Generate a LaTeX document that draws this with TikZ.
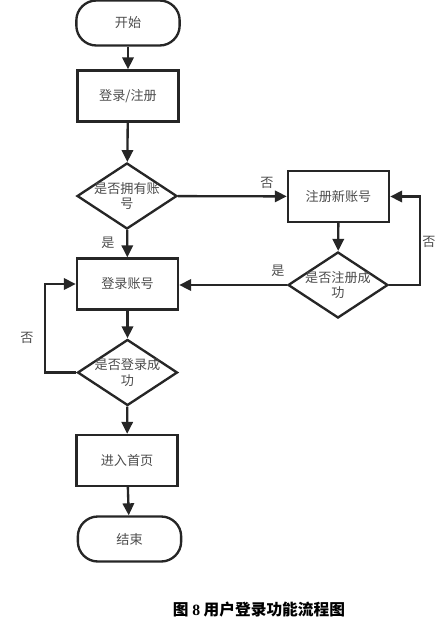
\documentclass[tikz,border=0pt]{standalone}
\usepackage{fontspec}
\newfontfamily\cjk{Noto Sans CJK SC}
\newfontfamily\numfont{Liberation Serif}
\usetikzlibrary{shapes.geometric}
\usetikzlibrary{arrows.meta}

\begin{document}
\begin{tikzpicture}[x=0.03cm,y=-0.03cm,
  line/.style={draw=black!85,line width=2pt},
  flow/.style={line,-{Triangle[length=0.36cm,width=0.34cm]}},
  terminal/.style={line,rectangle,rounded corners=0.6cm,minimum width=3.1cm,minimum height=1.35cm,inner sep=0pt},
  process/.style={line,rectangle,minimum width=3.03cm,minimum height=1.53cm,inner sep=0pt},
  decision/.style={line,diamond,minimum width=3cm,minimum height=1.98cm,inner sep=0pt},
  txt/.style={font=\cjk\fontsize{11.2}{13.6}\selectfont,text=black!70,align=center},
  tag/.style={font=\cjk\fontsize{11.2}{13.6}\selectfont,text=black!70}]
\useasboundingbox (0,0) rectangle (443,633);

% nodes
\node[terminal] (start) at (128,23) {};
\node[txt] at (start) {开始};
\node[process] (reg) at (128,96) {};
\node[txt] at (reg) {登录/注册};
\node[decision] (hasacc) at (127,196) {};
\node[txt] at (hasacc) {是否拥有账\\号};
\node[process] (newacc) at (338.5,196.5) {};
\node[txt] at (newacc) {注册新账号};
\node[decision] (regok) at (338,285) {};
\node[txt] at (regok) {是否注册成\\功};
\node[process] (login) at (127.5,284) {};
\node[txt] at (login) {登录账号};
\node[decision] (loginok) at (127.5,372.5) {};
\node[txt] at (loginok) {是否登录成\\功};
\node[process] (home) at (127,460.5) {};
\node[txt] at (home) {进入首页};
\node[terminal] (stop) at (129.5,539) {};
\node[txt] at (stop) {结束};

% connectors
\draw[flow] (start) -- (reg);
\draw[flow] (reg) -- (hasacc);
\draw[flow] (hasacc) -- (login);
\draw[flow] (hasacc) -- (newacc);
\draw[flow] (newacc) -- (regok);
\draw[flow] (regok) -- (regok -| login.east);
\draw[flow] (regok.east) -- ++(31,0) |- (newacc.east);
\draw[flow] (login) -- (loginok);
\draw[flow] (loginok.west) -- ++(-31,0) |- (login.west);
\draw[flow] (loginok) -- (home);
\draw[flow] (home) -- (stop);

% labels
\node[tag] (yes1) at (108,243) {是};
\node[tag] (no1) at (267,183) {否};
\node[tag] (yes2) at (278,271) {是};
\node[tag] (no2) at (429,242) {否};
\node[tag] (no3) at (27,338) {否};

\node[font=\cjk\bfseries\fontsize{13.4}{16}\selectfont] (cap) at (259,610) {图 {\numfont\bfseries 8} 用户登录功能流程图};
\end{tikzpicture}
\end{document}
